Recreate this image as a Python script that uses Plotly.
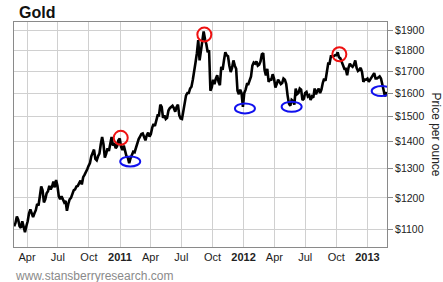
import math
import pandas as pd
import plotly.graph_objects as go

# ---------------- data ----------------
start_date = "2010-02-22"
step_days = 4

price_2010 = [1110, 1120, 1140, 1130, 1110, 1105, 1125, 1110, 1092, 1110,
              1125, 1150, 1162, 1150, 1138, 1150, 1160, 1180, 1175, 1205,
              1238, 1225, 1185, 1195, 1215, 1222, 1240, 1228, 1238, 1255,
              1235, 1260, 1240, 1205, 1195, 1205, 1195, 1185, 1190, 1158,
              1180, 1195, 1200, 1215, 1225, 1228, 1238, 1240, 1250, 1258,
              1245, 1270, 1278, 1292, 1298, 1310, 1320, 1345, 1355, 1370,
              1335, 1330, 1345, 1355, 1390, 1418, 1390, 1340, 1355, 1375,
              1365, 1400, 1418, 1385, 1395, 1375, 1382, 1405, 1412]
price_2011 = [1380, 1368, 1385, 1365, 1345, 1340, 1320, 1338, 1350, 1362,
              1360, 1380, 1400, 1410, 1420, 1430, 1432, 1415, 1405, 1425,
              1435, 1420, 1430, 1455, 1470, 1462, 1490, 1505, 1505, 1550,
              1540, 1495, 1505, 1490, 1495, 1525, 1535, 1540, 1545, 1535,
              1520, 1540, 1550, 1505, 1492, 1490, 1530, 1550, 1590, 1600,
              1600, 1620, 1628, 1660, 1715, 1740, 1785, 1850, 1750, 1790,
              1830, 1895, 1855, 1830, 1790, 1800, 1610, 1625, 1660, 1640,
              1665, 1680, 1650, 1635, 1720, 1705, 1750, 1790, 1775, 1770,
              1725, 1695, 1715, 1750, 1725, 1710, 1610, 1595, 1615, 1600,
              1540]
price_2012 = [1600, 1615, 1640, 1640, 1660, 1675, 1725, 1740, 1735, 1745,
              1725, 1730, 1745, 1780, 1785, 1705, 1680, 1710, 1650, 1660,
              1660, 1685, 1665, 1625, 1640, 1660, 1650, 1640, 1645, 1665,
              1660, 1640, 1590, 1555, 1545, 1570, 1565, 1550, 1620, 1595,
              1600, 1620, 1615, 1570, 1575, 1600, 1605, 1585, 1590, 1570,
              1585, 1580, 1620, 1595, 1610, 1620, 1600, 1615, 1645, 1665,
              1655, 1690, 1735, 1735, 1770, 1770, 1770, 1775, 1775, 1790,
              1765, 1760, 1745, 1725, 1710, 1710, 1680, 1715, 1735, 1725,
              1720, 1730, 1750, 1715, 1700, 1705, 1715, 1695, 1650, 1660,
              1660]
price_2013 = [1665, 1650, 1660, 1670, 1685, 1690, 1665, 1665, 1670, 1675,
              1665, 1640, 1610, 1585, 1605]

peak_dates = ["2011-01-03", "2011-09-07", "2012-10-10"]
peak_prices = [1415, 1879, 1780]
trough_dates = ["2011-01-31", "2012-01-05", "2012-05-22", "2013-02-12"]
trough_prices = [1326, 1534, 1541, 1609]

x_tick_vals = ["2010-04-01", "2010-07-01", "2010-10-01", "2011-01-01",
               "2011-04-01", "2011-07-01", "2011-10-01", "2012-01-01",
               "2012-04-01", "2012-07-01", "2012-10-01", "2013-01-01"]
x_tick_text = ["Apr", "Jul", "Oct", "<b>2011</b>", "Apr", "Jul", "Oct",
               "<b>2012</b>", "Apr", "Jul", "Oct", "<b>2013</b>"]
y_tick_vals = [1100, 1200, 1300, 1400, 1500, 1600, 1700, 1800, 1900]
y_tick_text = ["$1100", "$1200", "$1300", "$1400", "$1500", "$1600",
               "$1700", "$1800", "$1900"]

title_text = "Gold"
y_title = "Price per ounce"
source_text = "www.stansberryresearch.com"

# ---------------- figure ----------------
prices = price_2010 + price_2011 + price_2012 + price_2013
dates = pd.date_range(start_date, periods=len(prices), freq=f"{step_days}D")

y_lo, y_hi = 3.02052, 3.28889
FONT = "Liberation Sans, Arial, sans-serif"
GRID = "#d0d0d0"
BORDER = "#8a8a8a"

fig = go.Figure()
fig.add_trace(go.Scatter(x=dates, y=prices, mode="lines",
                         line=dict(color="black", width=2.6),
                         hoverinfo="skip", showlegend=False))
fig.add_trace(go.Scatter(x=[dates[0]], y=[math.log10(prices[0])], yaxis="y2",
                         mode="markers", marker=dict(opacity=0),
                         hoverinfo="skip", showlegend=False))

shapes = []
for d, p in zip(peak_dates, peak_prices):
    shapes.append(dict(type="circle", xref="x", yref="y2",
                       xsizemode="pixel", ysizemode="pixel",
                       xanchor=d, yanchor=math.log10(p),
                       x0=-7, x1=7, y0=-7, y1=7,
                       line=dict(color="#ee1111", width=2)))
for d, p in zip(trough_dates, trough_prices):
    shapes.append(dict(type="circle", xref="x", yref="y2",
                       xsizemode="pixel", ysizemode="pixel",
                       xanchor=d, yanchor=math.log10(p),
                       x0=-10, x1=10, y0=-5, y1=5,
                       line=dict(color="#1111ee", width=2)))

fig.update_layout(
    width=443, height=282,
    margin=dict(l=14, r=56, t=22, b=35),
    paper_bgcolor="white", plot_bgcolor="white",
    font=dict(family=FONT, size=11, color="#222"),
    showlegend=False,
    xaxis=dict(type="date", range=["2010-02-21 14:00", "2013-02-27 19:00"],
               tickvals=x_tick_vals, ticktext=x_tick_text, ticks="",
               showgrid=True, gridcolor=GRID, gridwidth=1,
               showline=True, linecolor=BORDER, linewidth=1, mirror=True,
               zeroline=False, tickfont=dict(size=11, color="#222")),
    yaxis=dict(type="log", side="right", range=[y_lo, y_hi],
               tickmode="array", tickvals=y_tick_vals, ticktext=y_tick_text,
               ticks="outside", ticklen=5, tickcolor=BORDER,
               showgrid=True, gridcolor=GRID, gridwidth=1,
               showline=True, linecolor=BORDER, linewidth=1, mirror=True,
               zeroline=False, tickfont=dict(size=10.5, color="#222")),
    yaxis2=dict(overlaying="y", range=[y_lo, y_hi], visible=False),
    shapes=shapes,
    annotations=[
        dict(text="<b>" + title_text + "</b>", xref="paper", yref="paper",
             x=0, y=1, xanchor="left", yanchor="middle", xshift=3, yshift=10,
             showarrow=False, font=dict(size=16, color="#111", family=FONT)),
        dict(text=y_title, xref="paper", yref="paper", x=1, y=0.5,
             xanchor="center", yanchor="middle", xshift=49, yshift=0,
             textangle=90, showarrow=False, font=dict(size=12, color="#222")),
        dict(text=source_text, xref="paper", yref="paper", x=0, y=0,
             xanchor="left", yanchor="middle", xshift=-1, yshift=-29,
             showarrow=False, font=dict(size=12, color="#8a8a8a")),
    ],
)

fig.write_html("out.html")
